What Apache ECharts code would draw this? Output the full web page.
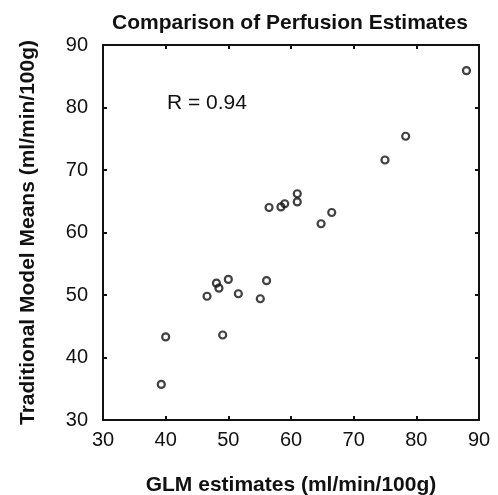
<!DOCTYPE html>
<html>
<head>
<meta charset="utf-8">
<script src="https://cdn.jsdelivr.net/npm/echarts@6/dist/echarts.min.js"></script>
<style>
html,body{margin:0;padding:0;background:#fff;}
#chart{width:498px;height:495px;}
</style>
</head>
<body>
<div id="chart"></div>
<script>
// GLM estimates (x) and Traditional model means (y), ml/min/100g
const glmEstimates = [88.0, 78.3, 75.0, 61.0, 61.0, 66.5, 64.8, 56.5, 58.4, 59.0,
                      46.6, 48.1, 48.5, 50.0, 51.6, 55.1, 56.1, 49.1, 40.0, 39.3];
const traditionalMeans = [85.9, 75.4, 71.6, 66.2, 64.9, 63.2, 61.4, 64.0, 64.1, 64.6,
                          49.8, 51.9, 51.1, 52.5, 50.2, 49.4, 52.3, 43.6, 43.3, 35.7];
const axisMin = 30, axisMax = 90, axisStep = 10;
const titleText = 'Comparison of Perfusion Estimates';
const xName = 'GLM estimates (ml/min/100g)';
const yName = 'Traditional Model Means (ml/min/100g)';
const annotation = 'R = 0.94';

const points = glmEstimates.map((x, i) => [x, traditionalMeans[i]]);
const font = 'Liberation Sans, Arial, Helvetica, sans-serif';
const lineStyle = {color: '#111', width: 2};

function mkX(pos, show) {
  return {
    type: 'value', position: pos, min: axisMin, max: axisMax, interval: axisStep,
    name: show ? xName : '', nameLocation: 'middle', nameGap: 55,
    nameTextStyle: {fontFamily: font, fontSize: 21, fontWeight: 'bold', color: '#111'},
    axisLine: {show: true, onZero: false, lineStyle: lineStyle},
    axisTick: {show: true, inside: true, length: 4, lineStyle: lineStyle},
    axisLabel: {show: show, fontFamily: font, fontSize: 20, color: '#111', margin: 10},
    splitLine: {show: false}
  };
}
function mkY(pos, show) {
  return {
    type: 'value', position: pos, min: axisMin, max: axisMax, interval: axisStep,
    name: show ? yName : '', nameLocation: 'middle', nameGap: 64, nameRotate: 90,
    nameTextStyle: {fontFamily: font, fontSize: 21, fontWeight: 'bold', color: '#111'},
    axisLine: {show: true, onZero: false, lineStyle: lineStyle},
    axisTick: {show: true, inside: true, length: 4, lineStyle: lineStyle},
    axisLabel: {show: show, fontFamily: font, fontSize: 20, color: '#111', margin: 15},
    splitLine: {show: false}
  };
}

const chart = echarts.init(document.getElementById('chart'), null, {renderer: 'canvas'});
chart.setOption({
  animation: false,
  backgroundColor: '#fff',
  title: {
    text: titleText, left: 107, top: 8,
    textStyle: {fontFamily: font, fontSize: 21, fontWeight: 'bold', color: '#111'}
  },
  grid: {left: 103, right: 19, top: 45, bottom: 75, containLabel: false, outerBoundsMode: 'none'},
  xAxis: [mkX('bottom', true), mkX('top', false)],
  yAxis: [mkY('left', true), mkY('right', false)],
  graphic: [{
    type: 'text', left: 167, top: 93,
    style: {text: annotation, fontFamily: font, fontSize: 21, fill: '#111'}
  }],
  series: [{
    type: 'scatter', xAxisIndex: 0, yAxisIndex: 0,
    data: points, symbol: 'circle', symbolSize: 7,
    itemStyle: {color: 'rgba(0,0,0,0)', borderColor: '#111', borderWidth: 2.2}
  }]
});
</script>
</body>
</html>
